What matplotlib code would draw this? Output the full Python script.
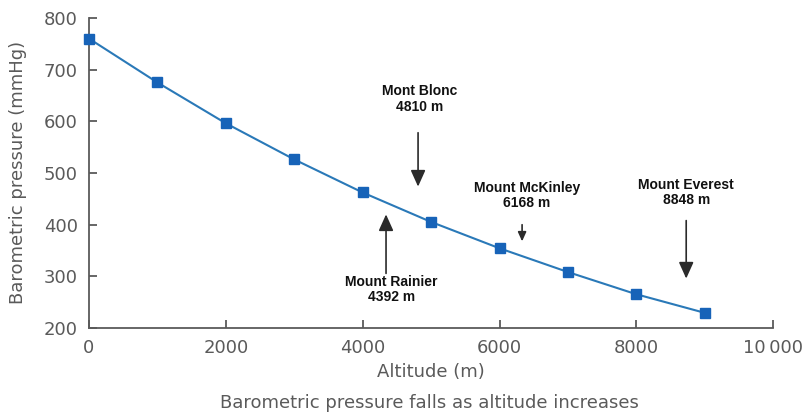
import matplotlib.pyplot as plt

# altitude (m) vs barometric pressure (mmHg)
altitude = [0, 1000, 2000, 3000, 4000, 5000, 6000, 7000, 8000, 9000]
pressure = [760, 675, 596, 526, 462, 405, 354, 308, 265, 229]

# mountains: label, arrow tail, arrow head, text position
peaks = ['Mont Blonc\n4810 m', 'Mount Rainier\n4392 m', 'Mount McKinley\n6168 m', 'Mount Everest\n8848 m']
peak_x = [4810, 4342, 6330, 8728]
tail_y = [583, 300, 405, 413]
head_y = [468, 425, 362, 290]
text_x = [4830, 4420, 6400, 8728]
text_y = [643, 275, 456, 462]
head_size = [1.0, 1.0, 0.55, 1.0]

grey = '#5a5a5a'

fig = plt.figure(figsize=(8.08, 4.15), dpi=100)
ax = fig.add_axes([0.110, 0.210, 0.847, 0.747])

ax.plot(altitude, pressure, '-', color='#2a79b8', lw=1.5, zorder=2, clip_on=False)
ax.plot(altitude, pressure, 's', color='#1763b8', markersize=6.5, zorder=3, clip_on=False)

for i in range(len(peaks)):
    hs = head_size[i]
    ax.annotate('', xy=(peak_x[i], head_y[i]), xytext=(peak_x[i], tail_y[i]),
                arrowprops=dict(arrowstyle=f'-|>,head_length={hs},head_width={hs * 0.45}',
                                color='#2b2b2b', lw=1.2))
    ax.text(text_x[i], text_y[i], peaks[i], ha='center', va='center',
            fontsize=10, fontweight='bold', family='Liberation Sans',
            color='#111111', linespacing=1.1)

ax.set_xlim(0, 10000)
ax.set_ylim(200, 800)
ax.set_xticks(range(0, 10001, 2000))
ax.set_xticklabels(['0', '2000', '4000', '6000', '8000', '10\u2009000'])
ax.set_yticks(range(200, 801, 100))

for s in ['top', 'right']:
    ax.spines[s].set_visible(False)
for s in ['left', 'bottom']:
    ax.spines[s].set_color(grey)
    ax.spines[s].set_linewidth(1.3)

ax.tick_params(direction='in', length=6, width=1.3, color=grey,
               labelsize=13, labelcolor=grey, pad=8)
ax.set_xlabel('Altitude (m)', fontsize=13, color=grey, labelpad=4)
ax.set_ylabel('Barometric pressure (mmHg)', fontsize=13, color=grey, labelpad=12)

fig.text(0.532, 0.03, 'Barometric pressure falls as altitude increases',
         ha='center', va='center', fontsize=13, color=grey)

plt.savefig('out.png', dpi=100)
